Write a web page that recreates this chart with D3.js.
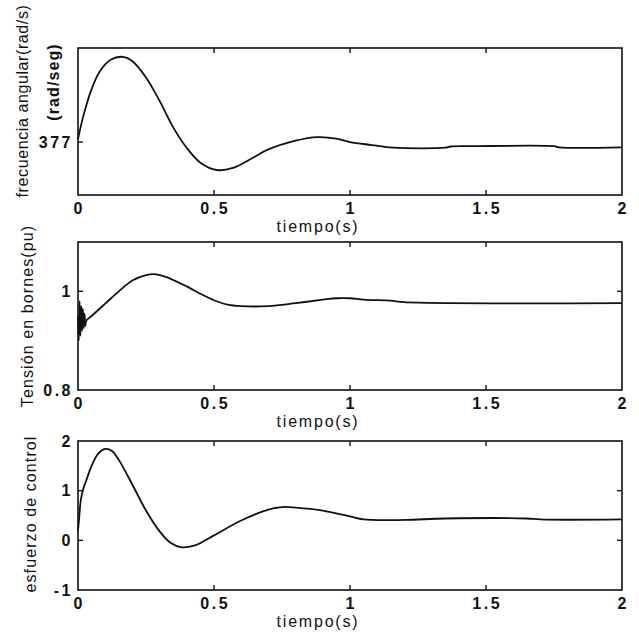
<!DOCTYPE html>
<html>
<head>
<meta charset="utf-8">
<script src="https://cdn.jsdelivr.net/npm/d3@7"></script>
<style>
  body { margin: 0; background: #fff; }
  svg { display: block; font-family: "Liberation Sans", Arial, sans-serif; }
  .frame { fill: none; stroke: #111; stroke-width: 1.6; }
  .trace { fill: none; stroke: #111; stroke-width: 1.8; }
  .tick { stroke: #111; stroke-width: 1.4; }
  .ticklabel { font-size: 16px; font-weight: bold; fill: #111; letter-spacing: 2.5px; }
  .xlabel { font-size: 16px; fill: #111; letter-spacing: 1.8px; }
  .ylabel { font-size: 16px; fill: #111; letter-spacing: 1.1px; }
</style>
</head>
<body>
<svg id="chart" width="639" height="642"></svg>
<script>
// shared time axis
const xTicks = [0, 0.5, 1, 1.5, 2];
const xTickLabels = ["0", "0.5", "1", "1.5", "2"];

// frecuencia angular (rad/s)
const freqT = [0, 0.02, 0.05, 0.08, 0.12, 0.165, 0.2, 0.25, 0.3, 0.35, 0.4, 0.45, 0.51, 0.57, 0.63, 0.7, 0.8, 0.88, 0.95, 1.0, 1.08, 1.16, 1.35, 1.37, 1.45, 1.75, 1.77, 2];
const freqW = [377.1, 377.9, 378.8, 379.4, 379.8, 379.9, 379.75, 379.2, 378.4, 377.5, 376.8, 376.3, 376.05, 376.12, 376.4, 376.75, 377.05, 377.17, 377.12, 377.0, 376.9, 376.81, 376.81, 376.85, 376.86, 376.86, 376.82, 376.82];
const freqTicks = [377];
const freqTickLabels = ["377"];

// tension en bornes (pu)
const voltT = [0, 0.003, 0.006, 0.009, 0.012, 0.015, 0.018, 0.021, 0.024, 0.027, 0.03, 0.05, 0.1, 0.15, 0.2, 0.25, 0.28, 0.32, 0.4, 0.45, 0.5, 0.55, 0.6, 0.7, 0.8, 0.9, 0.95, 1.0, 1.05, 1.15, 1.2, 2];
const voltV = [0.95, 0.9, 0.98, 0.91, 0.97, 0.92, 0.965, 0.925, 0.955, 0.93, 0.94, 0.95, 0.975, 1.0, 1.022, 1.033, 1.035, 1.03, 1.01, 0.995, 0.982, 0.973, 0.97, 0.97, 0.976, 0.983, 0.986, 0.986, 0.983, 0.981, 0.978, 0.976];
const voltTicks = [0.8, 1];
const voltTickLabels = ["0.8", "1"];

// esfuerzo de control
const ctrlT = [0, 0.005, 0.01, 0.02, 0.03, 0.05, 0.075, 0.1, 0.125, 0.15, 0.2, 0.25, 0.3, 0.34, 0.38, 0.43, 0.5, 0.6, 0.7, 0.75, 0.8, 0.9, 1.0, 1.05, 1.2, 1.35, 1.65, 1.7, 2];
const ctrlU = [0.2, 0.5, 0.8, 1.05, 1.2, 1.5, 1.75, 1.84, 1.8, 1.62, 1.12, 0.6, 0.18, -0.05, -0.14, -0.1, 0.1, 0.4, 0.62, 0.67, 0.66, 0.6, 0.48, 0.42, 0.41, 0.44, 0.44, 0.42, 0.42];
const ctrlTicks = [-1, 0, 1, 2];
const ctrlTickLabels = ["-1", "0", "1", "2"];

const panels = [
  { t: freqT, v: freqW, domain: [375.2, 380.2], top: 48, bottom: 195,
    yTicks: freqTicks, yLabels: freqTickLabels, leftTicks: [377], rightTicks: [],
    title: "frecuencia angular(rad/s)", titleX: 22, titleY: 101, titleSpacing: 0.6,
    sub: "(rad/seg)", subX: 53, subY: 82 },
  { t: voltT, v: voltV, domain: [0.8, 1.1], top: 242, bottom: 390,
    yTicks: voltTicks, yLabels: voltTickLabels, leftTicks: [1], rightTicks: [1],
    title: "Tensión en bornes(pu)", titleX: 27, titleY: 316 },
  { t: ctrlT, v: ctrlU, domain: [-1, 2], top: 441, bottom: 590,
    yTicks: ctrlTicks, yLabels: ctrlTickLabels, leftTicks: [0, 1], rightTicks: [0, 1],
    title: "esfuerzo de control", titleX: 30, titleY: 514 },
];

const left = 78;
const right = 622;
const tickLen = 5;

const svg = d3.select("#chart");
const x = d3.scaleLinear().domain([0, 2]).range([left, right]);

panels.forEach((p) => {
  const y = d3.scaleLinear().domain(p.domain).range([p.bottom, p.top]);
  const g = svg.append("g");

  g.append("rect")
    .attr("class", "frame")
    .attr("x", left)
    .attr("y", p.top)
    .attr("width", right - left)
    .attr("height", p.bottom - p.top);

  // inner x ticks, top and bottom
  const inner = xTicks.filter((d) => d > 0 && d < 2);
  g.selectAll(".xb")
    .data(inner)
    .join("line")
    .attr("class", "tick")
    .attr("x1", (d) => x(d)).attr("x2", (d) => x(d))
    .attr("y1", p.bottom).attr("y2", p.bottom - tickLen);
  g.selectAll(".xt")
    .data(inner)
    .join("line")
    .attr("class", "tick")
    .attr("x1", (d) => x(d)).attr("x2", (d) => x(d))
    .attr("y1", p.top).attr("y2", p.top + tickLen);

  g.selectAll(".yl")
    .data(p.leftTicks)
    .join("line")
    .attr("class", "tick")
    .attr("x1", left).attr("x2", left + tickLen)
    .attr("y1", (d) => y(d)).attr("y2", (d) => y(d));
  g.selectAll(".yr")
    .data(p.rightTicks)
    .join("line")
    .attr("class", "tick")
    .attr("x1", right).attr("x2", right - tickLen)
    .attr("y1", (d) => y(d)).attr("y2", (d) => y(d));

  // letter-spacing adds a trailing gap, nudge by half of it
  g.selectAll(".xlab")
    .data(xTicks)
    .join("text")
    .attr("class", "ticklabel")
    .attr("x", (d) => x(d) + 1.2)
    .attr("y", p.bottom + 19)
    .attr("text-anchor", "middle")
    .text((d, i) => xTickLabels[i]);

  g.selectAll(".ylab")
    .data(p.yTicks)
    .join("text")
    .attr("class", "ticklabel")
    .attr("x", left - 5)
    .attr("y", (d) => y(d))
    .attr("dy", "0.35em")
    .attr("text-anchor", "end")
    .text((d, i) => p.yLabels[i]);

  g.append("text")
    .attr("class", "xlabel")
    .attr("x", 318)
    .attr("y", p.bottom + 37)
    .attr("text-anchor", "middle")
    .text("tiempo(s)");

  g.append("text")
    .attr("class", "ylabel")
    .attr("transform", `translate(${p.titleX},${p.titleY}) rotate(-90)`)
    .attr("text-anchor", "middle")
    .attr("dy", "0.35em")
    .style("letter-spacing", p.titleSpacing != null ? `${p.titleSpacing}px` : null)
    .text(p.title);

  if (p.sub) {
    g.append("text")
      .attr("class", "ylabel")
      .attr("font-weight", "bold")
      .attr("font-size", 15)
      .attr("transform", `translate(${p.subX},${p.subY}) rotate(-90)`)
      .attr("text-anchor", "middle")
      .attr("dy", "0.35em")
      .text(p.sub);
  }

  const line = d3.line()
    .x((d, i) => x(p.t[i]))
    .y((d) => y(d))
    .curve(d3.curveCatmullRom.alpha(0.5));

  g.append("path")
    .attr("class", "trace")
    .attr("d", line(p.v));
});
</script>
</body>
</html>
